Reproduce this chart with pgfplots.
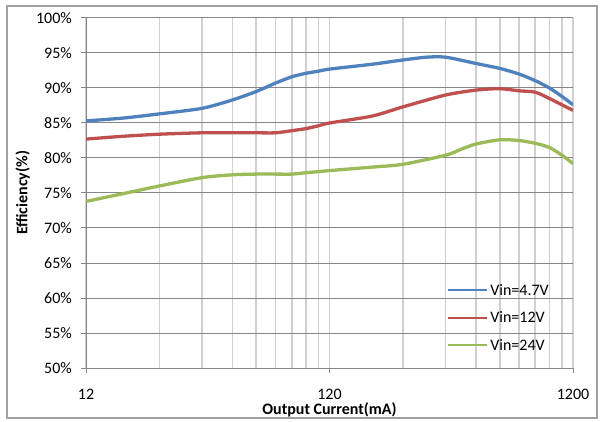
\documentclass[border=0pt]{standalone}
\usepackage{fontspec}
\setmainfont{Carlito}
\usepackage{pgfplots}
\pgfplotsset{compat=1.18}

\definecolor{xlblue}{HTML}{4F81BD}
\definecolor{xlred}{HTML}{C0504D}
\definecolor{xlgreen}{HTML}{9BBB59}
\definecolor{gridmaj}{HTML}{868686}
\definecolor{gridmin}{HTML}{D0D0D0}
\definecolor{frame}{HTML}{A0A0A0}

\newcommand{\chartfont}{\fontsize{16bp}{19bp}\selectfont}

\begin{document}
\begin{tikzpicture}
\useasboundingbox (-86bp,-54bp) rectangle (514bp,368bp);
\draw[frame, line width=1.5bp] (-79bp,-50bp) rectangle (511bp,362bp);
\begin{axis}[
    at={(0,0)}, anchor=south west,
    scale only axis,
    width=487bp, height=350bp,
    xmode=log,
    xmin=12, xmax=1200,
    ymin=50, ymax=100,
    xtick={12,120,1200},
    xticklabels={12,120,1200},
    minor xtick={24,36,48,60,72,84,96,108,240,360,480,600,720,840,960,1080},
    ytick={50,55,...,100},
    yticklabels={50\%,55\%,60\%,65\%,70\%,75\%,80\%,85\%,90\%,95\%,100\%},
    axis lines*=left,
    axis line style={gridmaj, line width=1bp},
    tick align=outside,
    major tick length=5bp,
    minor tick length=0pt,
    tick style={gridmaj, line width=1bp},
    xmajorgrids, xminorgrids, ymajorgrids,
    x grid style={gridmin, line width=1.6bp},
    minor x grid style={gridmin, line width=1.6bp},
    y grid style={gridmaj, line width=1bp},
    tick label style={font=\chartfont},
    xticklabel style={anchor=center, yshift=-21bp},
    yticklabel style={anchor=east, inner sep=0pt, xshift=-9bp},
    xlabel={Output Current(mA)},
    ylabel={Efficiency(\%)},
    label style={font=\chartfont\bfseries},
    xlabel style={at={(axis description cs:0.5,-0.12)}, anchor=center},
    ylabel style={at={(axis description cs:-0.13,0.5)}, anchor=center},
    legend style={font=\chartfont, draw=none, fill=none,
        at={(axis description cs:0.735,0.035)}, anchor=south west,
        row sep=11bp, nodes={inner sep=2bp}},
    legend cell align=left,
    legend image code/.code={\draw[#1, line width=2.2bp] (0bp,0bp) -- (39bp,0bp);},
    every axis plot/.append style={line width=3.3bp, smooth, tension=0.45, no markers},
]
\addplot[xlblue] coordinates {
    (12,85.3) (17,85.7) (24,86.3) (36,87.1) (48,88.3) (60,89.5) (72,90.7)
    (84,91.6) (96,92.1) (108,92.4) (120,92.7) (180,93.4) (240,94.0)
    (300,94.4) (360,94.4) (480,93.5) (600,92.8) (720,92.0) (840,91.05)
    (960,90.0) (1080,88.8) (1200,87.6)
};
\addlegendentry{Vin=4.7V}
\addplot[xlred] coordinates {
    (12,82.7) (17,83.1) (24,83.4) (36,83.6) (48,83.6) (60,83.6) (72,83.6)
    (84,83.9) (96,84.2) (108,84.6) (120,85.0) (180,86.0) (240,87.3)
    (360,89.0) (480,89.7) (600,89.9) (720,89.6) (840,89.4) (960,88.5)
    (1080,87.6) (1200,86.8)
};
\addlegendentry{Vin=12V}
\addplot[xlgreen] coordinates {
    (12,73.8) (17,74.9) (24,76.0) (36,77.2) (48,77.6) (60,77.7) (72,77.7)
    (84,77.7) (96,77.9) (108,78.05) (120,78.2) (180,78.7) (240,79.1)
    (360,80.4) (420,81.3) (480,82.0) (600,82.6) (720,82.5) (840,82.1)
    (960,81.5) (1080,80.4) (1200,79.2)
};
\addlegendentry{Vin=24V}
\end{axis}
\end{tikzpicture}
\end{document}
